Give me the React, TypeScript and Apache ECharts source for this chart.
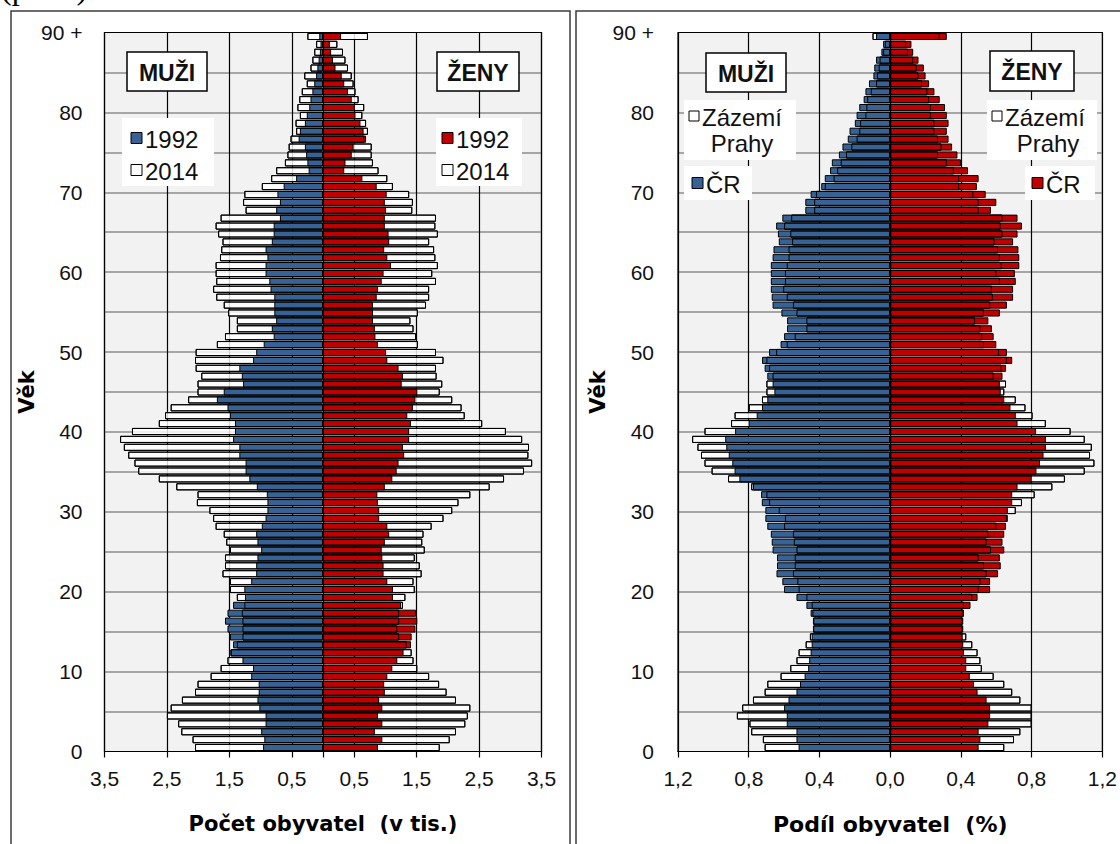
import React, { useEffect, useRef } from 'react';
import * as echarts from 'echarts';

const AGES = [
  '0','1','2','3','4','5','6','7','8','9',
  '10','11','12','13','14','15','16','17','18','19',
  '20','21','22','23','24','25','26','27','28','29',
  '30','31','32','33','34','35','36','37','38','39',
  '40','41','42','43','44','45','46','47','48','49',
  '50','51','52','53','54','55','56','57','58','59',
  '60','61','62','63','64','65','66','67','68','69',
  '70','71','72','73','74','75','76','77','78','79',
  '80','81','82','83','84','85','86','87','88','89',
  '90 +'
];

// Left pyramid: population in thousands
const MEN_1992 = [
  0.96,0.94,0.99,0.92,0.92,1.02,1.05,1.03,1.03,1.15,
  1.12,1.29,1.48,1.44,1.49,1.53,1.57,1.53,1.44,1.25,
  1.26,1.15,1.07,1.07,1.05,0.99,1.05,1.07,0.98,0.92,
  0.89,0.89,0.90,1.06,1.18,1.24,1.24,1.34,1.34,1.44,
  1.41,1.41,1.49,1.53,1.70,1.59,1.28,1.30,1.34,1.12,
  1.07,0.95,0.79,0.82,0.75,0.78,0.78,0.78,0.84,0.86,
  0.92,0.92,0.89,0.92,0.82,0.79,0.79,0.69,0.75,0.69,
  0.73,0.63,0.43,0.23,0.25,0.27,0.29,0.39,0.37,0.29,
  0.26,0.22,0.20,0.17,0.14,0.11,0.09,0.07,0.05,0.04,
  0.06
];
const MEN_2014 = [
  2.05,2.09,2.27,2.32,2.50,2.44,2.26,2.05,2.01,1.80,
  1.64,1.53,1.48,1.38,1.29,1.29,1.29,1.30,1.26,1.38,
  1.49,1.49,1.61,1.57,1.57,1.49,1.55,1.59,1.72,1.76,
  1.82,2.02,2.01,2.35,2.63,2.96,3.02,3.12,3.19,3.25,
  3.06,2.63,2.53,2.44,2.16,2.01,2.01,1.95,2.04,2.05,
  2.04,1.70,1.57,1.38,1.38,1.52,1.59,1.71,1.76,1.71,
  1.72,1.72,1.65,1.63,1.61,1.68,1.72,1.64,1.24,1.28,
  1.26,0.98,0.83,0.75,0.61,0.57,0.55,0.52,0.43,0.44,
  0.37,0.41,0.38,0.34,0.26,0.30,0.20,0.17,0.14,0.11,
  0.25
];
const WOMEN_1992 = [
  0.88,0.95,0.83,0.95,0.88,0.95,0.90,0.99,0.98,1.03,
  1.11,1.19,1.29,1.41,1.42,1.48,1.51,1.49,1.25,1.12,
  1.12,1.03,0.97,0.97,0.95,0.94,0.99,1.06,1.03,0.90,
  0.90,0.88,0.87,0.99,1.11,1.18,1.21,1.30,1.28,1.38,
  1.38,1.41,1.35,1.44,1.48,1.51,1.26,1.28,1.21,1.03,
  1.01,0.88,0.84,0.83,0.80,0.80,0.80,0.86,0.88,0.94,
  0.97,1.09,1.03,0.98,1.06,1.05,0.99,0.99,1.01,0.99,
  1.02,0.86,0.63,0.34,0.36,0.46,0.49,0.69,0.65,0.60,
  0.52,0.51,0.46,0.40,0.34,0.30,0.20,0.16,0.13,0.11,
  0.29
];
const WOMEN_2014 = [
  1.87,2.03,2.13,2.28,2.32,2.36,2.13,1.98,1.86,1.70,
  1.51,1.45,1.42,1.34,1.22,1.19,1.22,1.22,1.28,1.32,
  1.47,1.45,1.58,1.55,1.47,1.63,1.59,1.61,1.74,1.93,
  2.07,2.17,2.36,2.67,2.90,3.22,3.35,3.29,3.30,3.19,
  2.93,2.55,2.27,2.22,2.07,1.87,1.91,1.82,1.81,1.93,
  1.81,1.52,1.49,1.45,1.40,1.52,1.65,1.70,1.70,1.81,
  1.75,1.84,1.80,1.78,1.70,1.84,1.80,1.81,1.43,1.44,
  1.38,1.12,1.03,0.89,0.80,0.78,0.78,0.66,0.72,0.69,
  0.63,0.66,0.57,0.52,0.49,0.46,0.40,0.36,0.32,0.23,
  0.72
];

// Right pyramid: share of population in %
const MEN_CR = [
  0.518,0.53,0.53,0.585,0.585,0.60,0.575,0.53,0.51,0.484,
  0.464,0.458,0.45,0.444,0.444,0.437,0.437,0.45,0.474,0.53,
  0.60,0.61,0.643,0.64,0.64,0.665,0.67,0.675,0.695,0.706,
  0.706,0.726,0.73,0.776,0.853,0.88,0.893,0.913,0.927,0.933,
  0.877,0.80,0.755,0.725,0.695,0.655,0.665,0.695,0.71,0.725,
  0.685,0.62,0.60,0.583,0.583,0.615,0.665,0.67,0.675,0.675,
  0.675,0.675,0.665,0.66,0.63,0.635,0.645,0.61,0.48,0.48,
  0.45,0.39,0.37,0.34,0.33,0.29,0.27,0.24,0.23,0.20,
  0.19,0.175,0.15,0.14,0.12,0.095,0.09,0.08,0.05,0.04,
  0.08
];
const MEN_ZAZEMI = [
  0.71,0.72,0.786,0.796,0.867,0.837,0.776,0.71,0.695,0.62,
  0.565,0.53,0.518,0.478,0.454,0.435,0.435,0.44,0.444,0.474,
  0.518,0.525,0.55,0.54,0.54,0.53,0.545,0.55,0.60,0.595,
  0.63,0.685,0.70,0.786,0.917,1.01,1.05,1.07,1.09,1.12,
  1.05,0.90,0.88,0.80,0.725,0.70,0.70,0.665,0.685,0.70,
  0.645,0.585,0.54,0.474,0.474,0.53,0.55,0.585,0.605,0.595,
  0.595,0.585,0.575,0.575,0.555,0.565,0.60,0.56,0.43,0.43,
  0.42,0.37,0.32,0.30,0.28,0.25,0.22,0.19,0.175,0.17,
  0.14,0.135,0.13,0.11,0.08,0.075,0.065,0.06,0.04,0.03,
  0.10
];
const WOMEN_CR = [
  0.50,0.51,0.50,0.555,0.565,0.565,0.545,0.494,0.474,0.45,
  0.43,0.43,0.417,0.413,0.41,0.413,0.413,0.417,0.454,0.494,
  0.565,0.565,0.61,0.625,0.62,0.645,0.635,0.645,0.655,0.665,
  0.665,0.69,0.69,0.72,0.80,0.827,0.847,0.867,0.88,0.88,
  0.825,0.72,0.71,0.68,0.645,0.625,0.62,0.635,0.655,0.69,
  0.66,0.60,0.585,0.575,0.555,0.62,0.66,0.695,0.695,0.71,
  0.705,0.73,0.73,0.725,0.695,0.72,0.745,0.72,0.57,0.60,
  0.54,0.49,0.50,0.44,0.40,0.38,0.35,0.33,0.32,0.33,
  0.32,0.31,0.28,0.25,0.22,0.20,0.19,0.16,0.13,0.12,
  0.32
];
const WOMEN_ZAZEMI = [
  0.645,0.70,0.736,0.80,0.80,0.80,0.736,0.69,0.645,0.585,
  0.518,0.51,0.494,0.464,0.43,0.41,0.41,0.415,0.417,0.464,
  0.50,0.51,0.545,0.53,0.50,0.57,0.545,0.555,0.60,0.66,
  0.71,0.745,0.817,0.917,0.988,1.10,1.155,1.13,1.14,1.10,
  1.02,0.88,0.805,0.765,0.71,0.645,0.655,0.585,0.63,0.66,
  0.615,0.53,0.52,0.51,0.48,0.53,0.565,0.58,0.575,0.62,
  0.60,0.63,0.62,0.61,0.59,0.635,0.625,0.635,0.50,0.50,
  0.47,0.39,0.39,0.36,0.32,0.27,0.29,0.27,0.25,0.25,
  0.23,0.23,0.22,0.21,0.18,0.16,0.15,0.13,0.10,0.09,
  0.28
];

const LEFT_TICKS = [-3.5, -2.5, -1.5, -0.5, 0, 0.5, 1.5, 2.5, 3.5];
const LEFT_LABELS = [-3.5, -2.5, -1.5, -0.5, 0.5, 1.5, 2.5, 3.5];
const RIGHT_TICKS = [-1.2, -0.8, -0.4, 0, 0.4, 0.8, 1.2];

const BLUE = '#376296';
const RED = '#c00000';
const BACK_WHITE = 'rgba(255,255,255,0.82)';
const SANS = '"Liberation Sans", Arial, sans-serif';
const TITLE_FONT = '"DejaVu Sans", "Liberation Sans", sans-serif';

const LEFT_RECT = { left: 104.5, top: 32.5, width: 437, height: 719 };
const RIGHT_RECT = { left: 678, top: 32.5, width: 425, height: 719 };

const fmt = (v: number) => Math.abs(v).toFixed(1).replace('.', ',');
const neg = (a: number[]) => a.map((v) => -v);

function bars(axis: number, name: string, data: number[], color: string, z: number) {
  return {
    type: 'bar',
    name,
    xAxisIndex: axis,
    yAxisIndex: axis,
    data,
    z,
    barGap: '-100%',
    barCategoryGap: '10%',
    silent: true,
    itemStyle: { color, borderColor: '#000', borderWidth: 1 },
  };
}

function valueXAxis(grid: number, min: number, max: number, ticks: number[], labels: number[], name: string, titleSize: number) {
  return {
    type: 'value',
    gridIndex: grid,
    min,
    max,
    axisLine: { show: true, lineStyle: { color: '#000', width: 1.2 } },
    axisTick: { show: true, length: 6, customValues: ticks, lineStyle: { color: '#000', width: 1.2 } },
    axisLabel: {
      customValues: labels,
      formatter: fmt,
      fontSize: 21,
      fontFamily: SANS,
      color: '#111',
      margin: 16,
    },
    splitLine: { show: true, lineStyle: { color: '#000', width: 1.2 } },
    name,
    nameLocation: 'middle',
    nameGap: 62,
    nameTextStyle: { fontFamily: TITLE_FONT, fontWeight: 'bold', fontSize: titleSize, color: '#000' },
  };
}

function overlayYAxis(grid: number, margin: number, nameGap: number) {
  return {
    type: 'value',
    gridIndex: grid,
    min: 0,
    max: 90,
    interval: 5,
    axisLine: { show: false },
    axisTick: { show: false },
    axisLabel: {
      formatter: (v: number) => (v % 10 === 0 ? (v === 90 ? '90 +' : String(v)) : ''),
      fontSize: 21,
      fontFamily: SANS,
      color: '#111',
      margin,
    },
    splitLine: { show: true, showMinLine: false, showMaxLine: false, lineStyle: { color: '#8c8c8c', width: 1.5 } },
    name: 'Věk',
    nameLocation: 'middle',
    nameRotate: 90,
    nameGap,
    nameTextStyle: { fontFamily: TITLE_FONT, fontWeight: 'bold', fontSize: 21, color: '#000' },
  };
}

function boxLabel(x: number, y: number, w: number, h: number, text: string) {
  return [
    { type: 'rect', shape: { x, y, width: w, height: h }, style: { fill: '#fff', stroke: '#000', lineWidth: 1.5 }, z: 100 },
    {
      type: 'text', z: 101,
      style: { text, x: x + w / 2, y: y + h / 2 + 1, font: `bold 23px ${SANS}`, fill: '#111', textAlign: 'center', textVerticalAlign: 'middle', align: 'center', verticalAlign: 'middle' },
    },
  ];
}

function legendItem(x: number, y: number, fill: string, text: string, size = 11) {
  return [
    { type: 'rect', shape: { x, y: y - size / 2, width: size, height: size }, style: { fill, stroke: '#000', lineWidth: 1 }, z: 101 },
    {
      type: 'text', z: 101,
      style: { text, x: x + size + 3, y: y + 1, font: `24px ${SANS}`, fill: '#111', textAlign: 'left', textVerticalAlign: 'middle', align: 'left', verticalAlign: 'middle' },
    },
  ];
}

function whiteBg(x: number, y: number, w: number, h: number) {
  return { type: 'rect', shape: { x, y, width: w, height: h }, style: { fill: '#fff' }, z: 100 };
}

function plainText(x: number, y: number, text: string, align: string) {
  return {
    type: 'text', z: 101,
    style: { text, x, y, font: `24px ${SANS}`, fill: '#111', textAlign: align, textVerticalAlign: 'middle', align, verticalAlign: 'middle' },
  };
}

function buildOption() {
  return {
    animation: false,
    backgroundColor: '#fff',
    textStyle: { fontFamily: SANS },
    grid: [
      { ...LEFT_RECT, show: true, backgroundColor: '#f2f2f2', borderColor: '#000', borderWidth: 1.2 },
      { ...LEFT_RECT, show: false },
      { ...RIGHT_RECT, show: true, backgroundColor: '#f2f2f2', borderColor: '#000', borderWidth: 1.2 },
      { ...RIGHT_RECT, show: false },
    ],
    xAxis: [
      valueXAxis(0, -3.5, 3.5, LEFT_TICKS, LEFT_LABELS, 'Počet obyvatel  (v tis.)', 21),
      { type: 'value', gridIndex: 1, min: 0, max: 1, show: false },
      valueXAxis(2, -1.2, 1.2, RIGHT_TICKS, RIGHT_TICKS, 'Podíl obyvatel  (%)', 22),
      { type: 'value', gridIndex: 3, min: 0, max: 1, show: false },
    ],
    yAxis: [
      { type: 'category', gridIndex: 0, data: AGES, show: false },
      overlayYAxis(1, 22, 60),
      { type: 'category', gridIndex: 2, data: AGES, show: false },
      overlayYAxis(3, 24, 68),
    ],
    series: [
      // left pyramid
      bars(0, 'Muži 2014', neg(MEN_2014), BACK_WHITE, 2),
      bars(0, 'Ženy 2014', WOMEN_2014, BACK_WHITE, 2),
      bars(0, 'Muži 1992', neg(MEN_1992), BLUE, 3),
      bars(0, 'Ženy 1992', WOMEN_1992, RED, 3),
      bars(0, 'Muži 2014 obrys', neg(MEN_2014), 'rgba(0,0,0,0)', 4),
      bars(0, 'Ženy 2014 obrys', WOMEN_2014, 'rgba(0,0,0,0)', 4),
      // right pyramid
      bars(2, 'Muži Zázemí Prahy', neg(MEN_ZAZEMI), BACK_WHITE, 2),
      bars(2, 'Ženy Zázemí Prahy', WOMEN_ZAZEMI, BACK_WHITE, 2),
      bars(2, 'Muži ČR', neg(MEN_CR), BLUE, 3),
      bars(2, 'Ženy ČR', WOMEN_CR, RED, 3),
      bars(2, 'Muži Zázemí obrys', neg(MEN_ZAZEMI), 'rgba(0,0,0,0)', 4),
      bars(2, 'Ženy Zázemí obrys', WOMEN_ZAZEMI, 'rgba(0,0,0,0)', 4),
    ],
    graphic: [
      // caption line above the panels, cropped at the top edge as in the source
      {
        type: 'text', z: 50,
        style: { text: '(pokr.)', x: 1, y: -12, font: '32px "Liberation Serif", serif', fill: '#000', textAlign: 'left', textVerticalAlign: 'middle', align: 'left', verticalAlign: 'middle' },
      },
      // panel frames
      { type: 'rect', shape: { x: 11, y: 11, width: 559, height: 900 }, style: { fill: 'none', stroke: '#3c3c3c', lineWidth: 1.5 }, z: 50 },
      { type: 'rect', shape: { x: 576, y: 11, width: 600, height: 900 }, style: { fill: 'none', stroke: '#3c3c3c', lineWidth: 1.5 }, z: 50 },
      // left panel labels
      ...boxLabel(127, 52, 80, 39, 'MUŽI'),
      ...boxLabel(437, 52, 82, 39, 'ŽENY'),
      whiteBg(122, 118, 92, 68),
      ...legendItem(131, 138, BLUE, '1992'),
      ...legendItem(131, 170, '#fff', '2014'),
      whiteBg(436, 118, 86, 68),
      ...legendItem(442, 138, RED, '1992'),
      ...legendItem(442, 170, '#fff', '2014'),
      // right panel labels
      ...boxLabel(706, 53, 80, 39, 'MUŽI'),
      ...boxLabel(990, 51, 84, 40, 'ŽENY'),
      whiteBg(684, 100, 112, 60),
      ...legendItem(689, 116, '#fff', 'Zázemí', 10),
      plainText(742, 143, 'Prahy', 'center'),
      whiteBg(684, 166, 68, 34),
      ...legendItem(692, 183, BLUE, 'ČR'),
      whiteBg(987, 100, 110, 60),
      ...legendItem(992, 116, '#fff', 'Zázemí', 10),
      plainText(1048, 143, 'Prahy', 'center'),
      whiteBg(1025, 166, 70, 34),
      ...legendItem(1032, 183, RED, 'ČR'),
    ],
  };
}

export default function App() {
  const ref = useRef<HTMLDivElement>(null);
  useEffect(() => {
    if (!ref.current) return;
    const chart = echarts.init(ref.current, null, { renderer: 'svg' });
    chart.setOption(buildOption() as any);
    return () => chart.dispose();
  }, []);
  return (
    <div
      ref={ref}
      style={{ position: 'absolute', left: 0, top: 0, width: 1120, height: 844, background: '#fff' }}
    />
  );
}
